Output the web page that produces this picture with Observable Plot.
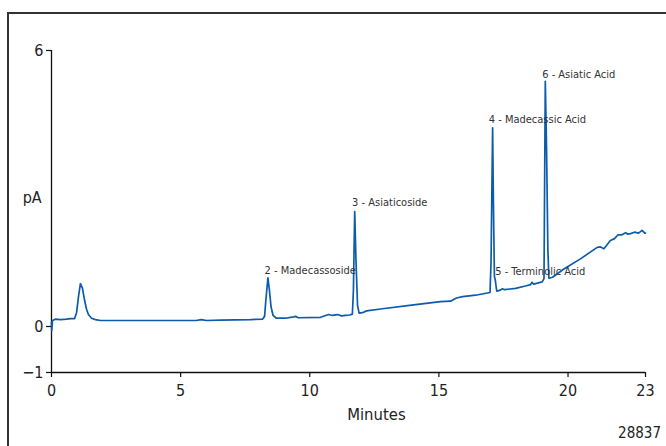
<!DOCTYPE html>
<html>
<head>
<meta charset="utf-8">
<script src="https://cdn.jsdelivr.net/npm/d3@7"></script>
<script src="https://cdn.jsdelivr.net/npm/@observablehq/plot@0.6"></script>
<style>
  html, body { margin: 0; padding: 0; width: 666px; height: 446px; overflow: hidden; background: #fff; }
  #wrap { position: relative; width: 666px; height: 446px; }
  #frame { position: absolute; left: 7px; top: 12px; width: 700px; height: 500px; border: 2px solid #333; box-sizing: border-box; }
  #chart { position: absolute; left: 0; top: 0; }
  #code { position: absolute; right: 5px; top: 424px; font-family: "Liberation Sans Narrow", "DejaVu Sans Condensed", "DejaVu Sans", sans-serif; font-stretch: condensed; font-size: 15px; color: #222; }
  svg text { font-stretch: condensed; }
</style>
</head>
<body>
<div id="wrap">
  <div id="frame"></div>
  <div id="chart"></div>
  <div id="code">28837</div>
</div>
<script>
// Chromatogram trace (retention time in minutes, detector signal in pA)
const times = [
  0, 0.01, 0.04, 0.15, 0.35, 0.58, 0.74, 0.89, 0.97, 1.05, 1.12, 1.20, 1.28, 1.36, 1.43, 1.55, 1.70, 1.90,
  3.83, 5.60, 5.80, 6.00, 6.54, 7.70, 8.17,
  8.25, 8.30, 8.38, 8.44, 8.50, 8.58, 8.71, 9.06, 9.37, 9.45, 9.56, 10.42, 10.73, 10.88, 11.07, 11.23, 11.38, 11.54, 11.65,
  11.69, 11.74, 11.79, 11.85, 11.91, 12.04, 12.20, 12.74, 14.02, 15.06, 15.45, 15.68, 15.92, 16.42, 16.98,
  17.02, 17.08, 17.11, 17.15, 17.18, 17.24, 17.38, 17.46, 17.54, 17.97, 18.35, 18.55, 18.60, 18.67, 19.00, 19.07,
  19.12, 19.17, 19.22, 19.26, 19.40, 19.84, 20.48, 21.13, 21.26, 21.39, 21.49, 21.64, 21.80, 21.93, 22.07, 22.23,
  22.30, 22.42, 22.57, 22.73, 22.87, 22.97, 23.0
];
const signal = [
  0.09, -0.09, 0.13, 0.16, 0.15, 0.16, 0.17, 0.17, 0.30, 0.67, 0.93, 0.83, 0.57, 0.37, 0.26, 0.18, 0.15, 0.13,
  0.13, 0.13, 0.15, 0.13, 0.14, 0.15, 0.16,
  0.22, 0.57, 1.06, 0.78, 0.43, 0.24, 0.18, 0.18, 0.21, 0.22, 0.19, 0.20, 0.26, 0.24, 0.26, 0.23, 0.24, 0.25, 0.27,
  0.78, 2.50, 1.43, 0.46, 0.29, 0.30, 0.34, 0.38, 0.47, 0.54, 0.55, 0.62, 0.65, 0.68, 0.74,
  1.43, 4.32, 2.74, 1.09, 1.02, 0.77, 0.79, 0.82, 0.80, 0.83, 0.88, 0.91, 0.96, 0.92, 0.97, 1.04,
  5.33, 3.83, 1.65, 1.05, 1.07, 1.25, 1.47, 1.72, 1.73, 1.69, 1.76, 1.87, 1.91, 1.99, 1.99, 2.04,
  2.01, 2.02, 2.05, 2.03, 2.09, 2.03, 2.03
];

// Peak annotations
const peakLabels = ["2 - Madecassoside", "3 - Asiaticoside", "4 - Madecassic Acid", "5 - Terminolic Acid", "6 - Asiatic Acid"];
const labelTimes = [8.25, 11.64, 16.93, 17.18, 19.00];
const labelSignal = [1.217, 2.696, 4.51, 1.196, 5.478];

// Axes
const xTicks = [0, 5, 10, 15, 20, 23];
const yTicks = [-1, 0, 6];
const xDomain = [0, 23];
const yDomain = [-1, 6];
const xTitle = "Minutes";
const yTitle = "pA";
const xTitlePos = [12.58, -1];
const yTitlePos = [-0.75, 2.8];

const trace = times.map((t, i) => ({t, v: signal[i]}));
const labels = peakLabels.map((name, i) => ({name, t: labelTimes[i], v: labelSignal[i]}));

const font = '"Liberation Sans Narrow", "DejaVu Sans Condensed", "DejaVu Sans", sans-serif';

const plot = Plot.plot({
  width: 666,
  height: 446,
  marginLeft: 51,
  marginRight: 21,
  marginTop: 50,
  marginBottom: 74,
  style: {fontFamily: font, color: "#222", background: "transparent", overflow: "visible"},
  x: {domain: xDomain},
  y: {domain: yDomain},
  marks: [
    Plot.ruleX([xDomain[0]], {y1: yDomain[0], y2: yDomain[1], stroke: "#111", strokeWidth: 1.3}),
    Plot.ruleY([yDomain[0]], {x1: xDomain[0], x2: xDomain[1], stroke: "#111", strokeWidth: 1.3}),
    Plot.axisY({ticks: yTicks, tickFormat: d3.format("d"), tickSize: 5, tickPadding: 3, fontSize: 16, label: null, stroke: "#111", strokeWidth: 1.2}),
    Plot.axisX({ticks: xTicks, tickFormat: d3.format("d"), tickSize: 5, tickPadding: 7, fontSize: 16, label: null, stroke: "#111", strokeWidth: 1.2}),
    Plot.line(trace, {x: "t", y: "v", stroke: "#0b5cad", strokeWidth: 1.7, curve: "linear"}),
    Plot.text(labels, {x: "t", y: "v", text: "name", textAnchor: "start", fontSize: 11, fill: "#333"}),
    Plot.text([xTitle], {x: xTitlePos[0], y: xTitlePos[1], text: d => d, dy: 42, fontSize: 16.5, fill: "#222"}),
    Plot.text([yTitle], {x: yTitlePos[0], y: yTitlePos[1], text: d => d, fontSize: 16, fill: "#222"})
  ]
});
document.getElementById("chart").appendChild(plot);
</script>
</body>
</html>
